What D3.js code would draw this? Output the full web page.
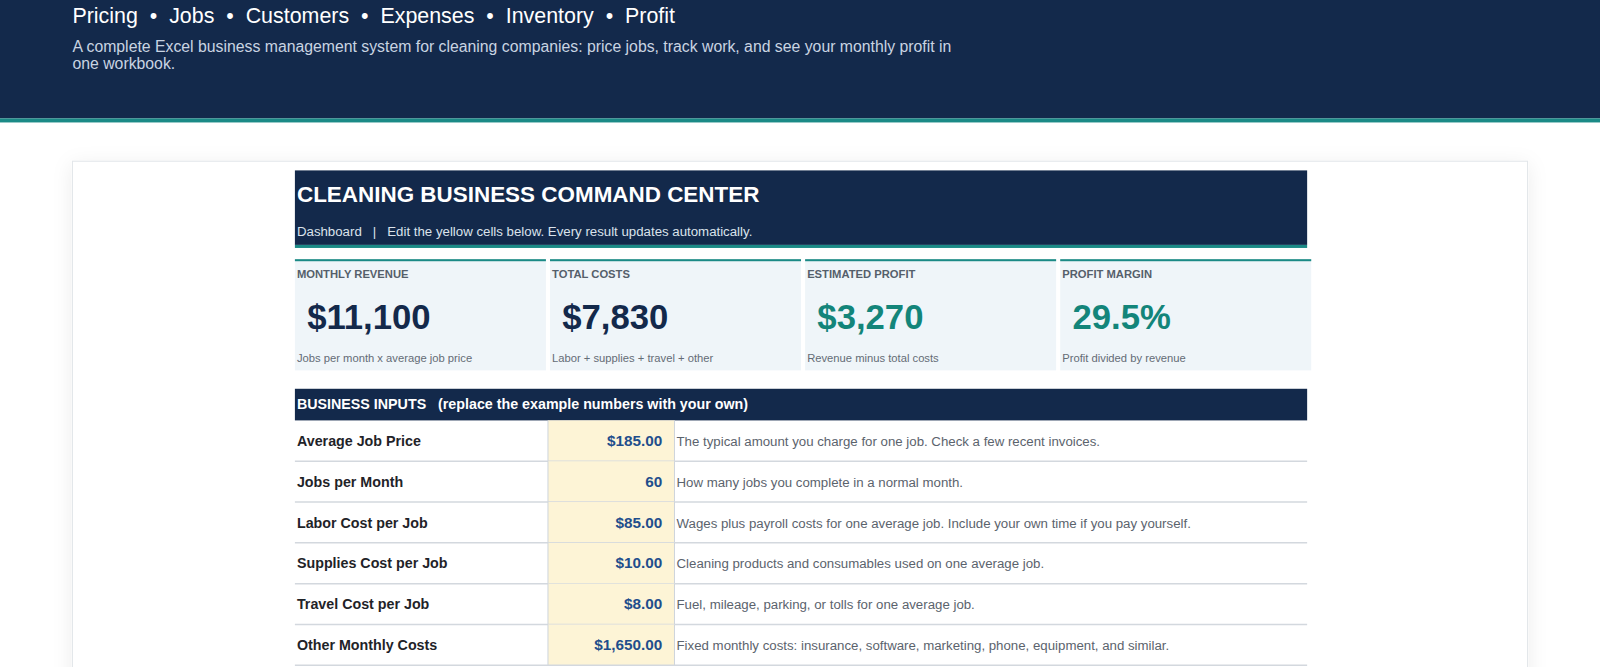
<!DOCTYPE html>
<html>
<head>
<meta charset="utf-8">
<script src="https://cdn.jsdelivr.net/npm/d3@7"></script>
<style>
  body { margin: 0; background: #ffffff; font-family: "Liberation Sans", Arial, sans-serif; }
</style>
</head>
<body>
<svg id="sheet"></svg>
<script>
// Page text
const navItems = ["Pricing", "Jobs", "Customers", "Expenses", "Inventory", "Profit"];
const introLines = [
  "A complete Excel business management system for cleaning companies: price jobs, track work, and see your monthly profit in",
  "one workbook."
];

// KPI cards
const kpiLabels = ["MONTHLY REVENUE", "TOTAL COSTS", "ESTIMATED PROFIT", "PROFIT MARGIN"];
const kpiValues = ["$11,100", "$7,830", "$3,270", "29.5%"];
const kpiNotes = ["Jobs per month x average job price", "Labor + supplies + travel + other",
  "Revenue minus total costs", "Profit divided by revenue"];
const kpiColors = ["#13294b", "#13294b", "#13857a", "#13857a"];

// Business inputs
const inputLabels = ["Average Job Price", "Jobs per Month", "Labor Cost per Job",
  "Supplies Cost per Job", "Travel Cost per Job", "Other Monthly Costs"];
const inputValues = ["$185.00", "60", "$85.00", "$10.00", "$8.00", "$1,650.00"];
const inputNotes = [
  "The typical amount you charge for one job. Check a few recent invoices.",
  "How many jobs you complete in a normal month.",
  "Wages plus payroll costs for one average job. Include your own time if you pay yourself.",
  "Cleaning products and consumables used on one average job.",
  "Fuel, mileage, parking, or tolls for one average job.",
  "Fixed monthly costs: insurance, software, marketing, phone, equipment, and similar."
];

const W = 1600, H = 667;
const k = 1600 / 1568; // layout measured on a 1568-wide grid
const navy = "#13294b", teal = "#1b8a86";
const root = d3.select("#sheet").attr("width", W).attr("height", H);

const defs = root.append("defs");
const sh = defs.append("filter").attr("id", "shadow").attr("x", "-5%").attr("y", "-5%").attr("width", "110%").attr("height", "120%");
sh.append("feDropShadow").attr("dx", 0).attr("dy", 4).attr("stdDeviation", 10).attr("flood-color", "#000").attr("flood-opacity", 0.08);

// Header band
root.append("rect").attr("width", W).attr("height", 116 * k).attr("fill", navy);
root.append("rect").attr("y", 116 * k).attr("width", W).attr("height", 4 * k).attr("fill", teal);

const svg = root.append("g").attr("transform", `scale(${k})`);

svg.append("text").attr("x", 71).attr("y", 23).attr("fill", "#ffffff")
  .style("font-size", "21px")
  .text(navItems.join("  \u2022  ")).attr("xml:space", "preserve");

svg.selectAll(".intro").data(introLines).enter().append("text")
  .attr("x", 71).attr("y", (d, i) => 51 + i * 17)
  .attr("fill", "#c9d4e2").style("font-size", "15.5px").text((d) => d);

// Card
svg.append("rect").attr("x", 71).attr("y", 158).attr("width", 1426).attr("height", 520)
  .attr("fill", "#fff").attr("stroke", "#e2e6ea").attr("filter", "url(#shadow)");

const x0 = 289, x1 = 1281;

// Title bar
svg.append("rect").attr("x", x0).attr("y", 167).attr("width", x1 - x0).attr("height", 73).attr("fill", navy);
svg.append("rect").attr("x", x0).attr("y", 240).attr("width", x1 - x0).attr("height", 3).attr("fill", teal);
svg.append("text").attr("x", x0 + 2).attr("y", 198).attr("fill", "#fff")
  .style("font-size", "22px").style("font-weight", "bold").text("CLEANING BUSINESS COMMAND CENTER");
svg.append("text").attr("x", x0 + 2).attr("y", 231).attr("fill", "#dbe3ec").attr("xml:space", "preserve")
  .style("font-size", "13px").text("Dashboard   |   Edit the yellow cells below. Every result updates automatically.");

// KPI cards
const kx = d3.scaleBand().domain(kpiLabels).range([x0, x1 + 4]).paddingInner(0.016).paddingOuter(0);
const cards = svg.selectAll(".kpi").data(kpiLabels).enter().append("g")
  .attr("transform", (d) => `translate(${kx(d)},254)`);
cards.append("rect").attr("width", kx.bandwidth()).attr("height", 109).attr("fill", "#eff5f9");
cards.append("rect").attr("width", kx.bandwidth()).attr("height", 2).attr("fill", teal);
cards.append("text").attr("x", 2).attr("y", 18).attr("fill", "#555f6b")
  .style("font-size", "11px").style("font-weight", "bold").text((d) => d);
cards.append("text").attr("x", 12).attr("y", 68).attr("fill", (d, i) => kpiColors[i])
  .style("font-size", "34px").style("font-weight", "bold").text((d, i) => kpiValues[i]);
cards.append("text").attr("x", 2).attr("y", 101).attr("fill", "#646c76")
  .style("font-size", "11px").text((d, i) => kpiNotes[i]);

// Inputs header
svg.append("rect").attr("x", x0).attr("y", 381).attr("width", x1 - x0).attr("height", 31).attr("fill", navy);
svg.append("text").attr("x", x0 + 2).attr("y", 401).attr("fill", "#fff").attr("xml:space", "preserve")
  .style("font-size", "14px").style("font-weight", "bold")
  .text("BUSINESS INPUTS   (replace the example numbers with your own)");

// Input rows
const ry = d3.scaleBand().domain(inputLabels).range([412, 412 + 40 * inputLabels.length]);
const rows = svg.selectAll(".row").data(inputLabels).enter().append("g")
  .attr("transform", (d) => `translate(0,${ry(d)})`);
rows.append("rect").attr("x", 537).attr("width", 124).attr("height", ry.bandwidth()).attr("fill", "#fdf4d6");
rows.append("line").attr("x1", 537).attr("x2", 537).attr("y2", ry.bandwidth()).attr("stroke", "#cfd5dc");
rows.append("line").attr("x1", 661).attr("x2", 661).attr("y2", ry.bandwidth()).attr("stroke", "#cfd5dc");
rows.append("line").attr("x1", x0).attr("x2", x1).attr("y1", ry.bandwidth()).attr("y2", ry.bandwidth())
  .attr("stroke", "#d3d8de").attr("stroke-width", 1.5);
rows.append("text").attr("x", x0 + 2).attr("y", 25).attr("fill", "#1f2328")
  .style("font-size", "14px").style("font-weight", "bold").text((d) => d);
rows.append("text").attr("x", 649).attr("y", 25).attr("text-anchor", "end").attr("fill", "#1f4e8c")
  .style("font-size", "15px").style("font-weight", "bold").text((d, i) => inputValues[i]);
rows.append("text").attr("x", 663).attr("y", 25).attr("fill", "#5b636d")
  .style("font-size", "13px").text((d, i) => inputNotes[i]);
</script>
</body>
</html>
